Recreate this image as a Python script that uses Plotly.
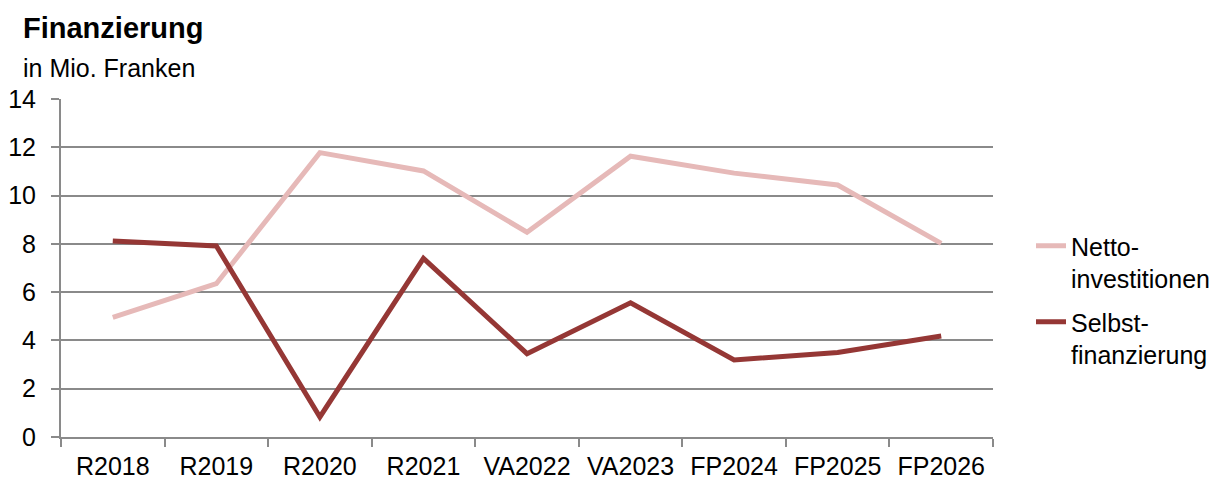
import plotly.graph_objects as go

categories = ["R2018", "R2019", "R2020", "R2021", "VA2022", "VA2023", "FP2024", "FP2025", "FP2026"]
netto = [4.95, 6.35, 11.78, 11.02, 8.48, 11.63, 10.93, 10.44, 8.02]
selbst = [8.12, 7.91, 0.83, 7.40, 3.45, 5.56, 3.19, 3.50, 4.18]
y_ticks = [0, 2, 4, 6, 8, 10, 12, 14]

FONT = "Liberation Sans, Arial, sans-serif"
GRAY = "#8a8a8a"

fig = go.Figure()
fig.add_trace(go.Scatter(x=categories, y=netto, mode="lines", name="Netto-<br>investitionen",
                         line=dict(color="#E6B9B8", width=5), legendgroup="a"))
fig.add_trace(go.Scatter(x=categories, y=selbst, mode="lines", name="Selbst-<br>finanzierung",
                         line=dict(color="#953735", width=5), legendgroup="b"))

fig.update_layout(
    width=1220, height=480,
    margin=dict(l=61, r=227, t=99, b=43),
    paper_bgcolor="white", plot_bgcolor="white",
    font=dict(family=FONT, size=25, color="black"),
    showlegend=True,
    legend=dict(xref="container", yref="container", x=1031 / 1220, xanchor="left",
                y=1 - 223 / 480, yanchor="top",
                font=dict(size=25), traceorder="grouped", tracegroupgap=8,
                valign="top", bgcolor="rgba(0,0,0,0)"),
    xaxis=dict(showgrid=False, showline=True, linecolor=GRAY, linewidth=2,
               ticks="outside", tickson="boundaries", ticklen=8, tickcolor=GRAY, tickwidth=2,
               tickfont=dict(size=25), range=[-0.5, 8.5], automargin=False,
               ticklabelstandoff=6),
    yaxis=dict(range=[0, 14], tickvals=y_ticks, showgrid=True, gridcolor=GRAY, gridwidth=2,
               showline=True, linecolor=GRAY, linewidth=2, ticks="outside", ticklen=8,
               tickcolor=GRAY, tickwidth=2, tickfont=dict(size=25), zeroline=False,
               ticklabelstandoff=10, automargin=False),
    annotations=[
        dict(text="<b>Finanzierung</b>", xref="paper", yref="paper", x=(21 - 61) / 932, y=(437 - 28) / 338,
             xanchor="left", yanchor="middle", showarrow=False, font=dict(size=29)),
        dict(text="in Mio. Franken", xref="paper", yref="paper", x=(21 - 61) / 932, y=(437 - 68) / 338,
             xanchor="left", yanchor="middle", showarrow=False, font=dict(size=25)),
    ],
)

fig.write_html("out.html", config={"displayModeBar": False},
               post_script="document.body.style.margin='0';")
